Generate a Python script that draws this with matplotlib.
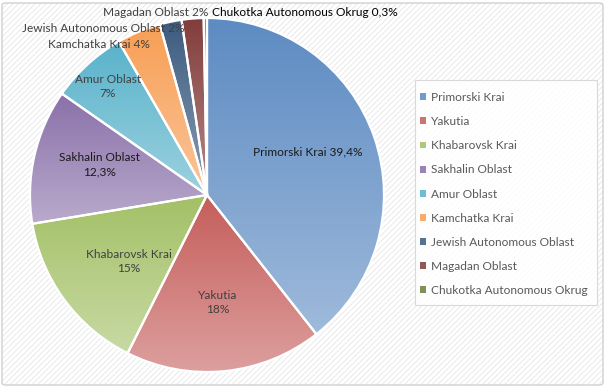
import matplotlib.pyplot as plt
import numpy as np
from matplotlib.patches import FancyBboxPatch, Rectangle
from matplotlib.colors import to_rgb

regions = ['Primorski Krai', 'Yakutia', 'Khabarovsk Krai', 'Sakhalin Oblast', 'Amur Oblast',
           'Kamchatka Krai', 'Jewish Autonomous Oblast', 'Magadan Oblast', 'Chukotka Autonomous Okrug']
shares = [39.4, 18, 15, 12.3, 7, 4, 2, 2, 0.3]
share_text = ['39,4%', '18%', '15%', '12,3%', '7%', '4%', '2%', '2%', '0,3%']

base_colors = ['#4F81BD', '#C0504D', '#9BBB59', '#8064A2', '#4BACC6',
               '#F79646', '#2C4D75', '#772C2A', '#5F7530']

plt.rcParams['font.family'] = ['Lato', 'DejaVu Sans']
FS = 8.6

W, H = 606, 387
fig = plt.figure(figsize=(W / 100, H / 100), dpi=100)
fig.patch.set_facecolor('white')

# excel style background: faint diagonal stripes + rounded border
plt.rcParams['hatch.linewidth'] = 0.6
bg = FancyBboxPatch((2 / W, 2 / H), 601 / W, 382 / H, boxstyle='round,pad=0,rounding_size=0.006',
                    transform=fig.transFigure, facecolor='white', edgecolor='#e6e6e6',
                    linewidth=0, hatch='//////', zorder=-3)
fig.patches.append(bg)
border = FancyBboxPatch((2 / W, 2 / H), 601 / W, 382 / H, boxstyle='round,pad=0,rounding_size=0.006',
                        transform=fig.transFigure, facecolor='none', edgecolor='#d0d0d0',
                        linewidth=1.0, zorder=-2)
fig.patches.append(border)


def lighter(c, f):
    r = np.array(to_rgb(c))
    return tuple(r + (1 - r) * f)


# pie axes, center at (207,195) px, radius 177 px
cx, cy, R = 207, 195, 177
half = 182
ax = fig.add_axes([(cx - half) / W, (H - cy - half) / H, 2 * half / W, 2 * half / H])
ax.set_axis_off()

wedges, _ = ax.pie(shares, startangle=90, counterclock=False, radius=1,
                   wedgeprops=dict(edgecolor='white', linewidth=1.6, facecolor='none'))

# gradient fill in each slice, dark at top, light at bottom
for w, c in zip(wedges, base_colors):
    ext = w.get_path().get_extents()
    top = np.array(lighter(c, 0.08))
    bot = np.array(lighter(c, 0.45))
    t = np.linspace(0, 1, 64)[:, None]
    grad = top[None, :] * (1 - t) + bot[None, :] * t
    img = ax.imshow(grad[:, None, :], extent=[ext.x0, ext.x1, ext.y0, ext.y1],
                    origin='upper', aspect='auto', zorder=1, interpolation='bilinear')
    img.set_clip_path(w)
    w.set_zorder(2)

lim = half / R
ax.set_xlim(-lim, lim)
ax.set_ylim(-lim, lim)

# labels inside the big slices
inner_r = [0.62, 0.61, 0.58, 0.63, 0.83]
angle_shift = [-4, 0, -4, 3, 0]
cum = np.cumsum([0] + shares)
for i in range(5):
    mid = (cum[i] + cum[i + 1]) / 2 / 100 * 360 + angle_shift[i]
    a = np.deg2rad(90 - mid)
    x, y = inner_r[i] * np.cos(a), inner_r[i] * np.sin(a)
    if i == 0:
        txt = regions[i] + ' ' + share_text[i]
    else:
        txt = regions[i] + '\n' + share_text[i]
    col = '#1a1a1a' if i in (0, 3) else '#404040'
    ax.text(x, y, txt, ha='center', va='center', fontsize=FS, color=col,
            linespacing=1.3, zorder=3)

# labels outside the small slices (pixel positions)
outer = [(150, 45, 'right', '#404040'), (185, 29, 'right', '#404040'),
         (208, 13, 'right', '#404040'), (212, 13, 'left', '#000000')]
for (px, py, ha, col), i in zip(outer, range(5, 9)):
    fig.text(px / W, 1 - py / H, regions[i] + ' ' + share_text[i], ha=ha, va='center',
             fontsize=FS, color=col, zorder=5)

# legend box drawn by hand, entries placed inside it
lbox = Rectangle((415 / W, 1 - 305 / H), 182 / W, 225 / H, transform=fig.transFigure,
                 facecolor='white', alpha=0.85, edgecolor='none', zorder=-1)
fig.patches.append(lbox)
lbox_edge = Rectangle((415 / W, 1 - 305 / H), 182 / W, 225 / H, transform=fig.transFigure,
                      facecolor='none', edgecolor='#d9d9d9', linewidth=0.8, zorder=-1)
fig.patches.append(lbox_edge)

handles = [Rectangle((0, 0), 1, 1, facecolor=lighter(c, 0.2), edgecolor='none') for c in base_colors]
leg = fig.legend(handles, regions, loc='upper left', bbox_to_anchor=(420 / W, 1 - 92 / H),
                 bbox_transform=fig.transFigure, fontsize=FS, frameon=False,
                 handlelength=0.5, handleheight=0.5, handletextpad=0.45, labelspacing=1.1,
                 borderpad=0, borderaxespad=0)
for t in leg.get_texts():
    t.set_color('#595959')

fig.savefig('out.png', dpi=100)
